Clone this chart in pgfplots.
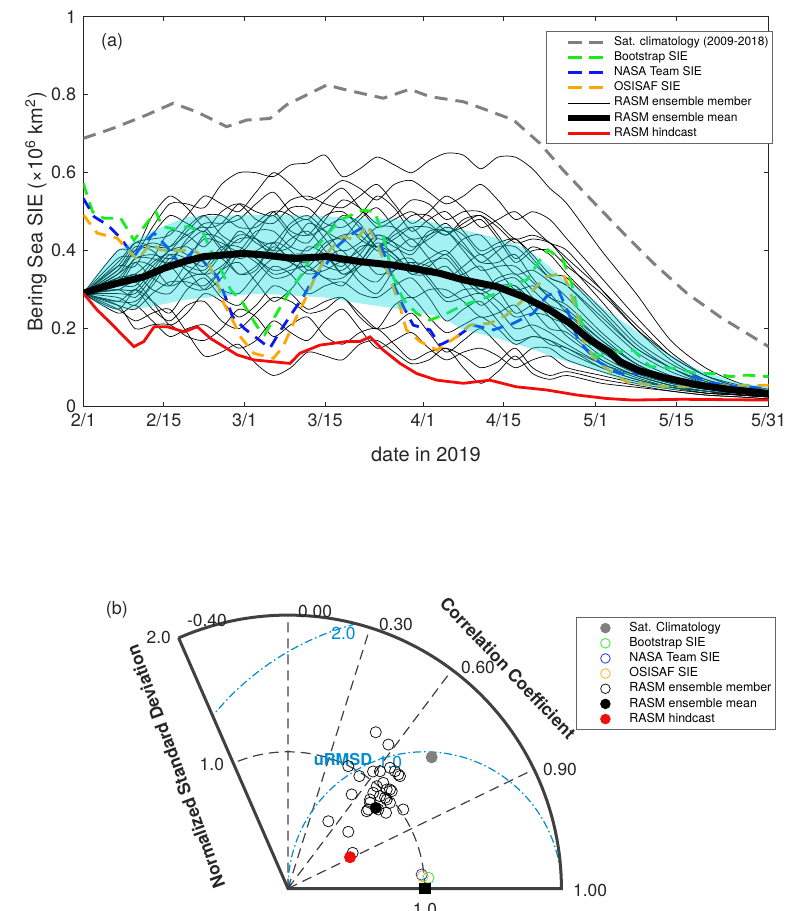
\documentclass[border=0pt]{standalone}
\usepackage{pgfplots}
\pgfplotsset{compat=1.18}
\usepackage{pgfplotstable}
\usepackage{fontspec}
\setmainfont{TeX Gyre Heros}

\definecolor{clim}{rgb}{0.5,0.5,0.5}
\definecolor{bootg}{rgb}{0.1,0.93,0.1}
\definecolor{nasab}{rgb}{0.05,0.1,0.95}
\definecolor{osio}{rgb}{1,0.65,0}
\definecolor{hind}{rgb}{0.95,0.05,0.05}
\definecolor{bandc}{rgb}{0.05,0.85,0.88}
\definecolor{rms}{rgb}{0.0,0.55,0.82}
\definecolor{frame}{rgb}{0.25,0.25,0.25}
\definecolor{tc}{rgb}{0.15,0.15,0.15}

\newcommand\tl{\fontsize{8.7}{10}\selectfont}

\pgfplotsset{
  tline/.style={legend image code/.code={\path[draw=none] (0pt,0pt) -- (32pt,0pt); \draw[##1] (9pt,0pt) -- (30pt,0pt);}},
  tmark/.style={only marks, legend image code/.code={\path[draw=none] (0pt,0pt) -- (24.5pt,0pt); \draw[##1] plot coordinates {(12.5pt,0pt)};}},
}

% RASM ensemble members, days since 1 Feb 2019
\pgfplotstableread{
day m1 m2 m3 m4 m5 m6 m7 m8 m9 m10 m11 m12 m13 m14 m15 m16 m17 m18 m19 m20 m21 m22 m23 m24 m25 m26 m27 m28
0 .29 .29 .29 .29 .29 .29 .29 .29 .29 .29 .29 .29 .29 .29 .29 .29 .29 .29 .29 .29 .29 .29 .29 .29 .29 .29 .29 .29
6 .38 .36 .40 .37 .33 .35 .31 .34 .30 .33 .28 .32 .27 .31 .26 .25 .29 .34 .36 .24 .25 .27 .26 .30 .33 .35 .30 .32
9 .39 .42 .40 .42 .34 .41 .31 .37 .30 .38 .26 .34 .27 .37 .25 .30 .29 .40 .36 .26 .22 .30 .20 .32 .32 .40 .28 .38
12 .46 .43 .49 .41 .38 .40 .36 .33 .35 .39 .32 .30 .31 .36 .29 .27 .34 .41 .44 .22 .24 .25 .21 .27 .37 .42 .33 .38
15 .52 .44 .54 .40 .45 .36 .40 .31 .40 .38 .38 .29 .37 .31 .32 .24 .39 .41 .49 .18 .25 .22 .21 .21 .39 .41 .36 .37
18 .52 .49 .51 .45 .44 .38 .41 .37 .39 .42 .36 .34 .35 .33 .32 .30 .38 .46 .47 .20 .19 .26 .18 .24 .35 .44 .31 .43
21 .51 .54 .46 .49 .41 .43 .38 .44 .34 .45 .35 .38 .30 .34 .31 .33 .36 .49 .45 .21 .13 .27 .17 .29 .34 .46 .30 .47
24 .57 .52 .47 .49 .46 .42 .39 .43 .36 .40 .40 .38 .33 .30 .35 .28 .41 .44 .50 .18 .14 .22 .20 .27 .39 .41 .35 .47
27 .60 .50 .52 .46 .49 .40 .45 .38 .40 .34 .44 .34 .39 .29 .37 .26 .41 .42 .52 .15 .16 .20 .25 .23 .43 .39 .40 .48
30 .60 .55 .50 .46 .43 .45 .42 .40 .39 .36 .43 .35 .37 .34 .32 .31 .38 .47 .48 .17 .11 .24 .23 .26 .43 .44 .38 .52
33 .59 .60 .49 .49 .42 .45 .40 .42 .39 .41 .38 .42 .33 .38 .27 .36 .35 .50 .47 .22 .08 .28 .18 .31 .40 .50 .34 .55
36 .62 .57 .53 .44 .47 .41 .46 .37 .43 .38 .39 .40 .34 .37 .30 .34 .36 .45 .51 .19 .10 .27 .21 .29 .41 .49 .35 .50
39 .625 .53 .54 .42 .49 .40 .48 .36 .45 .37 .39 .35 .39 .34 .35 .29 .41 .44 .51 .17 .14 .24 .23 .25 .47 .44 .36 .48
42 .645 .55 .52 .48 .45 .44 .43 .41 .40 .42 .36 .38 .38 .35 .33 .31 .39 .49 .47 .22 .13 .25 .18 .27 .45 .46 .33 .53
45 .59 .58 .51 .53 .40 .49 .38 .44 .34 .43 .35 .40 .36 .37 .31 .32 .34 .50 .46 .25 .12 .28 .16 .28 .43 .48 .33 .56
48 .61 .56 .54 .51 .42 .47 .40 .44 .36 .39 .39 .34 .41 .32 .36 .29 .37 .46 .49 .20 .16 .23 .19 .24 .48 .43 .37 .51
51 .64 .53 .57 .47 .46 .41 .44 .40 .41 .34 .44 .32 .41 .29 .37 .28 .43 .41 .54 .15 .17 .20 .20 .20 .51 .41 .42 .46
54 .62 .57 .52 .49 .46 .44 .42 .40 .39 .35 .42 .37 .38 .35 .33 .31 .41 .43 .51 .17 .14 .26 .16 .21 .46 .45 .39 .48
57 .60 .58 .47 .53 .43 .46 .40 .43 .35 .37 .36 .38 .34 .37 .28 .33 .39 .46 .45 .19 .11 .28 .12 .24 .41 .49 .34 .50
60 .63 .55 .50 .52 .44 .41 .45 .38 .37 .36 .38 .33 .34 .32 .30 .28 .44 .46 .48 .15 .12 .23 .14 .19 .43 .49 .36 .47
63 .65 .52 .54 .48 .47 .39 .45 .33 .38 .33 .40 .28 .36 .27 .30 .22 .45 .44 .50 .12 .15 .19 .15 .14 .46 .45 .39 .44
66 .645 .54 .51 .50 .42 .43 .41 .36 .33 .34 .35 .30 .31 .28 .27 .25 .40 .47 .45 .14 .10 .21 .13 .17 .44 .46 .34 .48
69 .61 .57 .46 .50 .37 .44 .37 .39 .29 .36 .30 .30 .26 .29 .23 .27 .35 .49 .40 .15 .06 .23 .10 .20 .39 .48 .30 .49
72 .64 .53 .48 .47 .40 .39 .37 .35 .31 .30 .32 .27 .29 .25 .24 .22 .36 .44 .42 .13 .09 .20 .115 .16 .41 .43 .33 .46
75 .64 .48 .50 .43 .43 .34 .39 .30 .31 .24 .33 .23 .31 .20 .26 .17 .36 .38 .43 .10 .13 .16 .15 .12 .41 .37 .34 .42
78 .61 .50 .46 .44 .38 .35 .33 .31 .27 .26 .28 .24 .25 .21 .20 .18 .32 .41 .39 .12 .085 .18 .10 .15 .37 .40 .30 .43
81 .56 .48 .42 .42 .33 .32 .28 .29 .24 .25 .23 .23 .20 .19 .16 .17 .28 .39 .34 .13 .07 .17 .08 .15 .33 .40 .26 .42
84 .52 .43 .40 .37 .31 .28 .26 .24 .22 .20 .21 .18 .19 .16 .15 .14 .25 .34 .33 .10 .08 .15 .09 .12 .31 .36 .24 .38
90 .40 .33 .30 .27 .22 .19 .18 .16 .15 .13 .14 .12 .12 .11 .10 .10 .17 .25 .24 .08 .06 .11 .07 .09 .23 .29 .17 .30
96 .29 .23 .20 .17 .14 .12 .11 .10 .09 .085 .09 .08 .08 .075 .07 .07 .11 .16 .15 .06 .05 .08 .055 .065 .15 .20 .11 .21
102 .17 .14 .12 .11 .09 .08 .075 .07 .065 .06 .06 .055 .055 .05 .05 .05 .07 .10 .10 .045 .04 .055 .04 .05 .10 .13 .07 .13
108 .10 .08 .07 .07 .06 .055 .05 .05 .05 .045 .045 .04 .04 .04 .04 .035 .05 .065 .065 .035 .03 .04 .03 .035 .06 .08 .05 .08
114 .06 .05 .05 .05 .045 .04 .04 .04 .04 .035 .035 .035 .03 .03 .03 .03 .04 .045 .045 .03 .025 .03 .025 .03 .045 .05 .04 .055
119 .045 .04 .04 .04 .035 .035 .03 .03 .03 .03 .03 .03 .028 .025 .025 .025 .03 .035 .035 .025 .02 .025 .02 .025 .035 .04 .03 .04
}\members

\begin{document}
\begin{tikzpicture}
\useasboundingbox (0,0) rectangle (393pt,455.5pt);

% ---------------- (a) time series ----------------
\begin{axis}[
  at={(41.65pt,252.15pt)}, anchor=south west,
  scale only axis, width=342.65pt, height=195pt,
  xmin=0, xmax=119, ymin=0, ymax=1,
  xtick={0,14,28,42,59,73,89,103,119},
  xticklabels={2/1,2/15,3/1,3/15,4/1,4/15,5/1,5/15,5/31},
  ytick={0,0.2,0.4,0.6,0.8,1},
  yticklabels={0,0.2,0.4,0.6,0.8,1},
  tick align=inside, major tick length=2.2pt,
  axis line style={draw=tc, line width=0.5pt},
  tick style={draw=tc, line width=0.5pt},
  tick label style={font=\fontsize{9}{10}\selectfont, text=tc},
  xlabel={date in 2019},
  ylabel={Bering Sea SIE (×10\textsuperscript{6} km\textsuperscript{2})},
  label style={font=\fontsize{10}{12}\selectfont, text=tc},
  xlabel style={at={(axis description cs:0.5,-0.123)}, anchor=center},
  ylabel style={at={(axis description cs:-0.069,0.5)}, anchor=center},
  legend style={at={(axis cs:80.3,0.963)}, anchor=north west,
    draw=black!60, line width=0.4pt, font=\fontsize{6}{7}\selectfont,
    inner xsep=2pt, inner ysep=2.3pt, row sep=1.48pt,
    nodes={inner sep=0pt, text height=4.6pt, text depth=1.5pt}},
  legend cell align=left,
]
\addplot[clim, line width=1.5pt, dash pattern=on 6.5pt off 4pt, forget plot] coordinates {
(0,0.688) (5.2,0.714) (11,0.748) (15.6,0.778) (19.7,0.756) (24.9,0.718) (28.4,0.735)
(32.4,0.739) (35.3,0.774) (42.3,0.825) (45.7,0.812) (52.1,0.791) (56.7,0.814) (60.2,0.795)
(66,0.782) (70,0.761) (74.7,0.735) (79.3,0.675) (83.3,0.607) (88.5,0.526) (93.8,0.445)
(99,0.368) (104.8,0.291) (110.5,0.231) (119,0.154)};

\pgfplotsinvokeforeach{1,...,28}{
  \addplot[black, line width=0.35pt, smooth, tension=0.45, forget plot] table[x=day,y=m#1]{\members};
}

\addplot[bootg, line width=1.4pt, dash pattern=on 6pt off 4pt, forget plot] coordinates {
(0,0.573) (1.6,0.50) (3.6,0.483) (6.5,0.483) (8.8,0.427) (11,0.47) (12.6,0.50) (13.7,0.462)
(16,0.455) (18,0.462) (20.7,0.449) (22.1,0.402) (23.9,0.351) (25.6,0.299) (27.6,0.269)
(30.2,0.205) (31.5,0.185) (34,0.25) (36,0.30) (38,0.34) (40,0.40) (42,0.436) (44.6,0.479)
(48.6,0.504) (50.6,0.50) (52.1,0.436) (53.8,0.333) (55.6,0.274) (57.9,0.239) (60.2,0.222)
(63.1,0.239) (66,0.261) (68.9,0.274) (71.8,0.291) (74.1,0.312) (77,0.325) (79.3,0.376)
(80.7,0.402) (83.3,0.376) (84.8,0.316) (85.7,0.256) (87.4,0.179) (89.1,0.128) (90.9,0.137)
(95.5,0.145) (98.4,0.103) (103,0.098) (106.5,0.085) (110,0.085) (112.3,0.077) (115.2,0.081)
(119,0.077)};

\addplot[nasab, line width=1.4pt, dash pattern=on 6pt off 4pt, forget plot] coordinates {
(0,0.534) (1.9,0.487) (4.2,0.466) (6.5,0.432) (8.8,0.385) (10.5,0.42) (12.3,0.445) (14.5,0.41)
(16.9,0.363) (19.2,0.402) (21,0.37) (23.3,0.333) (25,0.269) (25.9,0.231) (28,0.20) (30.2,0.175)
(32.4,0.150) (34.1,0.192) (36.2,0.239) (38.2,0.282) (40,0.33) (42.3,0.368) (44,0.410)
(46.3,0.440) (48.6,0.461) (49.8,0.453) (51.5,0.419) (52.7,0.376) (53.8,0.316) (55.6,0.256)
(57.3,0.209) (60.2,0.197) (61.9,0.158) (64.8,0.179) (67.7,0.209) (71.2,0.197) (74.7,0.214)
(78.1,0.239) (80.4,0.282) (82.5,0.299) (84.5,0.231) (85.7,0.179) (87.4,0.145) (89.7,0.113)
(93.2,0.085) (96.6,0.085) (103,0.064) (105.9,0.077) (109.4,0.060) (114,0.051) (119,0.047)};

\addplot[osio, line width=1.4pt, dash pattern=on 6pt off 4pt, forget plot] coordinates {
(0,0.492) (2.4,0.445) (5.9,0.432) (9.4,0.376) (11.7,0.419) (13.4,0.402) (16,0.40) (19.2,0.402)
(21.5,0.376) (23.3,0.316) (24.4,0.265) (26.2,0.214) (27.3,0.179) (29.6,0.137) (33,0.124)
(34.7,0.154) (36.5,0.214) (38.2,0.265) (40.5,0.34) (42.8,0.402) (45.1,0.436) (47.5,0.427)
(49.2,0.466) (51,0.42) (53.2,0.333) (55,0.256) (56.1,0.197) (58.5,0.167) (61.4,0.145)
(64.8,0.179) (67.1,0.209) (70.6,0.214) (73.5,0.235) (77,0.282) (80.4,0.333) (83.3,0.342)
(84.5,0.299) (85.7,0.239) (86.8,0.171) (88.5,0.128) (90.3,0.103) (94.3,0.064) (101.3,0.051)
(107,0.051) (114,0.055) (119,0.055)};

% ensemble spread
\addplot[draw=none, fill=bandc, fill opacity=0.38, forget plot] coordinates {
(0,0.291) (3,0.35) (6,0.40) (12,0.45) (18,0.487) (24,0.49) (31,0.492) (40,0.49) (48,0.483)
(55,0.48) (60,0.475) (66,0.453) (72,0.432) (77,0.405) (80,0.37) (84,0.32) (88,0.282)
(91,0.245) (95,0.205) (101,0.14) (106,0.10) (113,0.064) (119,0.05)
(119,0.03) (110,0.036) (101,0.045) (95,0.06) (89,0.094) (83,0.12) (77.5,0.15) (72,0.175)
(66,0.197) (62,0.231) (55,0.25) (48,0.265) (42,0.28) (31,0.29) (23,0.282) (17.5,0.274)
(11.7,0.256) (6,0.248) (3,0.26) (0,0.291)} -- cycle;

\addplot[black, line width=3.5pt, forget plot] coordinates {
(0,0.291) (3.6,0.308) (7.1,0.321) (10.5,0.333) (14,0.355) (17.5,0.372) (21,0.385) (24.4,0.389)
(27.9,0.393) (31.4,0.389) (36.5,0.380) (42.3,0.385) (48,0.372) (53.8,0.363) (58.5,0.351)
(61.9,0.342) (66,0.325) (71.8,0.308) (76.4,0.282) (81,0.248) (84.5,0.214) (88,0.171)
(91.4,0.14) (93.2,0.115) (96.6,0.092) (101.3,0.073) (107,0.055) (112.8,0.043) (119,0.034)};

\addplot[hind, line width=1.4pt, forget plot] coordinates {
(0,0.291) (2.4,0.248) (4.8,0.214) (7.1,0.179) (8.8,0.154) (10.5,0.167) (12.3,0.205) (14.6,0.205)
(17.5,0.192) (19.8,0.205) (22.1,0.175) (24.4,0.154) (26.7,0.133) (29.6,0.120) (35.9,0.111)
(37.6,0.137) (41.1,0.158) (45.7,0.167) (48,0.167) (49.8,0.179) (52.1,0.145) (55,0.111)
(57.9,0.085) (61.4,0.068) (66,0.060) (70.6,0.068) (75.2,0.051) (80.4,0.043) (85.7,0.030)
(90.9,0.021) (95.4,0.017) (104,0.019) (119,0.017)};

\addlegendimage{tline, clim, line width=1.5pt, dash pattern=on 7pt off 3.5pt}
\addlegendentry{Sat. climatology (2009-2018)}
\addlegendimage{tline, bootg, line width=1.4pt, dash pattern=on 7pt off 3.5pt}
\addlegendentry{Bootstrap SIE}
\addlegendimage{tline, nasab, line width=1.4pt, dash pattern=on 7pt off 3.5pt}
\addlegendentry{NASA Team SIE}
\addlegendimage{tline, osio, line width=1.4pt, dash pattern=on 7pt off 3.5pt}
\addlegendentry{OSISAF SIE}
\addlegendimage{tline, black, line width=0.35pt}
\addlegendentry{RASM ensemble member}
\addlegendimage{tline, black, line width=3pt}
\addlegendentry{RASM ensemble mean}
\addlegendimage{tline, hind, line width=1.4pt}
\addlegendentry{RASM hindcast}

\node[font=\fontsize{9}{10}\selectfont, text=tc] at (axis description cs:0.042,0.935) {(a)};
\end{axis}

% ---------------- (b) Taylor diagram ----------------
\begin{axis}[
  at={(144pt,11.25pt)}, anchor=origin,
  x=68.35pt, y=68.35pt,
  xmin=-0.85, xmax=2.1, ymin=-0.1, ymax=2.1,
  hide axis, clip=false,
  legend style={at={(axis cs:2.107,1.986)}, anchor=north west,
    draw=black!60, line width=0.4pt, font=\fontsize{6.2}{7}\selectfont,
    inner xsep=2pt, inner ysep=2.3pt, row sep=1.48pt,
    nodes={inner sep=0pt, text height=4.6pt, text depth=1.5pt}},
  legend cell align=left,
]
% grid
\draw[black!75, line width=0.6pt, dash pattern=on 5pt off 3pt]
  (axis cs:0,0) -- (axis cs:0,2)
  (axis cs:0,0) -- (axis cs:0.6,1.9079)
  (axis cs:0,0) -- (axis cs:1.2,1.6)
  (axis cs:0,0) -- (axis cs:1.8,0.8718);
\draw[black!75, line width=0.6pt, dash pattern=on 5pt off 3pt]
  (axis cs:1,0) arc[start angle=0, end angle=113.578, radius=68.35pt];
% uRMSD contours
\draw[rms, line width=0.6pt, dash pattern=on 4pt off 1.5pt on 0.8pt off 1.5pt]
  (axis cs:2,0) arc[start angle=0, end angle=180, radius=68.35pt];
\draw[rms, line width=0.6pt, dash pattern=on 4pt off 1.5pt on 0.8pt off 1.5pt]
  (axis cs:0.5,1.9365) arc[start angle=104.48, end angle=140.84, radius=136.7pt];
% frame
\draw[frame, line width=1.5pt] (axis cs:-0.8,1.8330) -- (axis cs:0,0) -- (axis cs:2,0)
  arc[start angle=0, end angle=113.578, radius=136.7pt];

% labels
\node[anchor=west, font=\tl, text=tc] at (axis cs:-0.790,1.960) {-0.40};
\node[anchor=west, font=\tl, text=tc] at (axis cs:0.022,2.023) {0.00};
\node[anchor=west, font=\tl, text=tc] at (axis cs:0.614,1.931) {0.30};
\node[anchor=west, font=\tl, text=tc] at (axis cs:1.214,1.617) {0.60};
\node[anchor=west, font=\tl, text=tc] at (axis cs:1.814,0.870) {0.90};
\node[anchor=west, font=\tl, text=tc] at (axis cs:2.034,-0.015) {1.00};
\node[anchor=east, font=\tl, text=tc] at (axis cs:-0.805,1.836) {2.0};
\node[anchor=east, font=\tl, text=tc] at (axis cs:-0.417,0.907) {1.0};
\node[anchor=north, font=\tl, text=tc] at (axis cs:1.002,-0.059) {1.0};
\node[rotate=-46.5, font=\bfseries\tl, text=tc] at (axis cs:1.609,1.613) {Correlation Coefficient};
\node[rotate=110, font=\bfseries\tl, text=tc] at (axis cs:-0.822,0.892) {Normalized Standard Deviation};
\node[font=\bfseries\fontsize{8.2}{10}\selectfont, text=rms] at (axis cs:0.402,0.940) {uRMSD};
\node[font=\tl, text=rms] at (axis cs:0.746,0.925) {1.0};
\node[font=\tl, text=rms] at (axis cs:0.406,1.865) {2.0};
\node[font=\fontsize{9}{10}\selectfont, text=tc] at (axis cs:-1.251,2.037) {(b)};

% data points (x = sigma*R, y = sigma*sqrt(1-R^2))
\addplot[only marks, mark=o, mark size=2.8pt, mark options={draw=black, line width=0.35pt}, forget plot] coordinates {
(0.642,1.143) (0.734,1.053) (0.441,0.895) (0.522,0.822) (0.673,0.858) (0.746,0.883)
(0.807,0.834) (0.697,0.773) (0.722,0.724) (0.624,0.700) (0.673,0.675) (0.759,0.712)
(0.466,0.688) (0.600,0.627) (0.710,0.664) (0.746,0.627) (0.587,0.578) (0.661,0.578)
(0.717,0.554) (0.843,0.578) (0.295,0.492) (0.441,0.415) (0.473,0.261) (0.783,0.858)
(0.819,0.822) (0.576,0.565) (0.722,0.651) (0.649,0.748) (0.600,0.651) (0.746,0.724)
(0.622,0.856)};
\addplot[only marks, mark=o, mark size=2.8pt, mark options={draw=nasab, line width=0.35pt}, forget plot] coordinates {(0.978,0.102)};
\addplot[only marks, mark=o, mark size=2.8pt, mark options={draw=osio, line width=0.35pt}, forget plot] coordinates {(0.985,0.090)};
\addplot[only marks, mark=o, mark size=2.8pt, mark options={draw=bootg, line width=0.35pt}, forget plot] coordinates {(1.027,0.078)};
\addplot[only marks, mark=*, mark size=2.8pt, mark options={draw=black, fill=black}, forget plot] coordinates {(0.642,0.590)};
\addplot[only marks, mark=*, mark size=2.8pt, mark options={draw=hind, fill=hind}, forget plot] coordinates {(0.454,0.229)};
\addplot[only marks, mark=*, mark size=2.8pt, mark options={draw=clim, fill=clim}, forget plot] coordinates {(1.051,0.960)};
\addplot[only marks, mark=square*, mark size=2.6pt, mark options={draw=black, fill=black}, forget plot] coordinates {(1,0)};

\addlegendimage{tmark, mark=*, mark size=2.4pt, mark options={draw=clim, fill=clim}}
\addlegendentry{Sat. Climatology}
\addlegendimage{tmark, mark=o, mark size=2.4pt, mark options={draw=bootg, line width=0.35pt}}
\addlegendentry{Bootstrap SIE}
\addlegendimage{tmark, mark=o, mark size=2.4pt, mark options={draw=nasab, line width=0.35pt}}
\addlegendentry{NASA Team SIE}
\addlegendimage{tmark, mark=o, mark size=2.4pt, mark options={draw=osio, line width=0.35pt}}
\addlegendentry{OSISAF SIE}
\addlegendimage{tmark, mark=o, mark size=2.4pt, mark options={draw=black, line width=0.35pt}}
\addlegendentry{RASM ensemble member}
\addlegendimage{tmark, mark=*, mark size=2.4pt, mark options={draw=black, fill=black}}
\addlegendentry{RASM ensemble mean}
\addlegendimage{tmark, mark=*, mark size=2.4pt, mark options={draw=hind, fill=hind}}
\addlegendentry{RASM hindcast}
\end{axis}
\end{tikzpicture}
\end{document}
